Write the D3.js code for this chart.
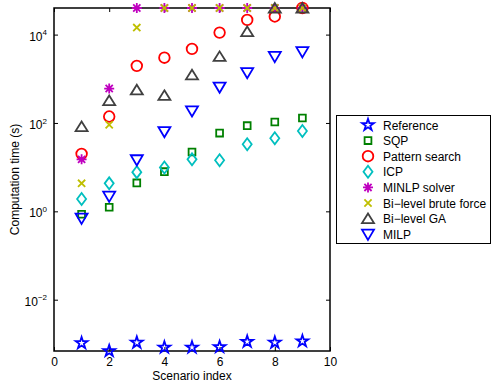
<!DOCTYPE html>
<html>
<head>
<meta charset="utf-8">
<script src="https://cdn.jsdelivr.net/npm/d3@7"></script>
<style>
  body { margin: 0; background: #fff; }
  svg text { font-family: "Liberation Sans", Arial, Helvetica, sans-serif; fill: #000; }
</style>
</head>
<body>
<div id="chart"></div>
<script>
// data (seconds, log scale)
const scenarios = [1, 2, 3, 4, 5, 6, 7, 8, 9]
const reference = [1.04e-3, 6.9e-4, 1.07e-3, 8.3e-4, 8.3e-4, 8.5e-4, 1.12e-3, 1.07e-3, 1.15e-3]
const sqp = [0.86, 1.24, 4.4, 7.9, 22, 59, 87, 105, 130]
const patternSearch = [20, 140, 1960, 3000, 4750, 11100, 21500, 25700, 40000]
const icp = [1.9, 4.3, 7.7, 9.8, 15, 14.3, 33, 45, 66]
const minlp = [15, 600, 40000, 40000, 40000, 40000, 40000, 40000, 40000]
const bruteForce = [4.3, 91, 14400, 40000, 40000, 40000, 40000, 40000, 40000]
const biLevelGA = [83, 320, 560, 420, 1230, 3200, 11700, 40000, 40000]
const milp = [0.70, 2.2, 14.7, 64, 188, 650, 1380, 3200, 4100]

const seriesNames = ['Reference', 'SQP', 'Pattern search', 'ICP', 'MINLP solver',
  'Bi\u2212level brute force', 'Bi\u2212level GA', 'MILP']
const xTicks = [0, 2, 4, 6, 8, 10]
const yTicks = [1e-2, 1, 1e2, 1e4]
const yExponents = ['\u22122', '0', '2', '4']

// constants
const width = 492
const height = 385
const margin = {left: 54, top: 8, right: 162, bottom: 34}
const plotRight = width - margin.right
const plotBottom = height - margin.bottom

// marker shapes, size = radius-ish in px
const star = {draw (ctx, r) {
  const ri = r * 0.382
  for (let i = 0; i < 10; i++) {
    const a = -Math.PI / 2 + i * Math.PI / 5
    const rr = i % 2 === 0 ? r : ri
    const px = rr * Math.cos(a), py = rr * Math.sin(a)
    if (i === 0) ctx.moveTo(px, py); else ctx.lineTo(px, py)
  }
  ctx.closePath()
}}
const square = {draw (ctx, r) { ctx.rect(-r, -r, 2 * r, 2 * r) }}
const circle = {draw (ctx, r) { ctx.moveTo(r, 0); ctx.arc(0, 0, r, 0, 2 * Math.PI) }}
const diamond = {draw (ctx, r) {
  ctx.moveTo(0, -r); ctx.lineTo(r * 0.75, 0); ctx.lineTo(0, r); ctx.lineTo(-r * 0.75, 0); ctx.closePath()
}}
const asterisk = {draw (ctx, r) {
  ctx.moveTo(-r, 0); ctx.lineTo(r, 0)
  ctx.moveTo(0, -r); ctx.lineTo(0, r)
  const d = r * 0.72
  ctx.moveTo(-d, -d); ctx.lineTo(d, d)
  ctx.moveTo(-d, d); ctx.lineTo(d, -d)
}}
const cross = {draw (ctx, r) {
  ctx.moveTo(-r, -r); ctx.lineTo(r, r)
  ctx.moveTo(-r, r); ctx.lineTo(r, -r)
}}
const triUp = {draw (ctx, r) {
  ctx.moveTo(0, -r * 0.85); ctx.lineTo(r, r * 0.75); ctx.lineTo(-r, r * 0.75); ctx.closePath()
}}
const triDown = {draw (ctx, r) {
  ctx.moveTo(0, r * 0.95); ctx.lineTo(r, -r * 0.75); ctx.lineTo(-r, -r * 0.75); ctx.closePath()
}}

const styles = [
  {type: star, size: 6.2, color: '#0000ff'},
  {type: square, size: 3.4, color: '#008000'},
  {type: circle, size: 5.3, color: '#ff0000'},
  {type: diamond, size: 6, color: '#00bfbf'},
  {type: asterisk, size: 5, color: '#bf00bf'},
  {type: cross, size: 3.6, color: '#bfbf00'},
  {type: triUp, size: 6, color: '#404040'},
  {type: triDown, size: 6, color: '#0000ff'}
]
const allValues = [reference, sqp, patternSearch, icp, minlp, bruteForce, biLevelGA, milp]

const svg = d3.select('#chart')
  .append('svg')
  .attr('width', width)
  .attr('height', height)

const xScale = d3.scaleLinear().domain([0, 10]).range([margin.left, plotRight])
const yScale = d3.scaleLog().domain([6.9e-4, 4e4]).range([plotBottom, margin.top])

// axes, inward ticks on all four sides
const yAxis = d3.axisLeft(yScale).tickValues(yTicks).tickSizeInner(-4).tickSizeOuter(0).tickPadding(7)
const gy = svg.append('g')
  .attr('transform', `translate(${margin.left},0)`)
  .call(yAxis)
gy.selectAll('.tick text')
  .text(null)
  .attr('font-size', 12)
  .attr('dy', '0.45em')
  .each(function (d, i) {
    const t = d3.select(this)
    t.append('tspan').text('10')
    t.append('tspan').attr('font-size', 8).attr('dy', '-0.65em').text(yExponents[i])
  })

svg.append('g')
  .attr('transform', `translate(${plotRight},0)`)
  .call(d3.axisRight(yScale).tickValues(yTicks).tickSizeInner(-4).tickSizeOuter(0).tickFormat(''))

const gx = svg.append('g')
  .attr('transform', `translate(0,${plotBottom})`)
  .call(d3.axisBottom(xScale).tickValues(xTicks).tickSizeInner(-4).tickSizeOuter(0).tickPadding(6))
gx.selectAll('.tick text').attr('font-size', 12)

svg.append('g')
  .attr('transform', `translate(0,${margin.top})`)
  .call(d3.axisTop(xScale).tickValues(xTicks).tickSizeInner(-4).tickSizeOuter(0).tickFormat(''))

svg.selectAll('.domain').remove()
svg.selectAll('.tick line').attr('stroke', '#000').attr('stroke-width', 1)

svg.append('rect')
  .attr('x', margin.left)
  .attr('y', margin.top)
  .attr('width', plotRight - margin.left)
  .attr('height', plotBottom - margin.top)
  .attr('fill', 'none')
  .attr('stroke', '#000')
  .attr('stroke-width', 1.5)

// labels
svg.append('text')
  .attr('x', (margin.left + plotRight) / 2)
  .attr('y', 380)
  .attr('text-anchor', 'middle')
  .attr('font-size', 12)
  .text('Scenario index')

svg.append('text')
  .attr('transform', `translate(19,${(margin.top + plotBottom) / 2}) rotate(-90)`)
  .attr('text-anchor', 'middle')
  .attr('font-size', 12)
  .text('Computation time (s)')

// markers
allValues.forEach((vals, i) => {
  const st = styles[i]
  svg.append('g')
    .selectAll('path')
    .data(vals)
    .join('path')
    .attr('transform', (d, j) => `translate(${xScale(scenarios[j])},${yScale(d)})`)
    .attr('d', d3.symbol().type(st.type).size(st.size))
    .attr('fill', 'none')
    .attr('stroke', st.color)
    .attr('stroke-width', 1.8)
})

// legend
const legend = svg.append('g')
legend.append('rect')
  .attr('x', 336.5)
  .attr('y', 115.5)
  .attr('width', 154)
  .attr('height', 128)
  .attr('fill', '#fff')
  .attr('stroke', '#000')
  .attr('stroke-width', 1)

const rows = legend.selectAll('g.row')
  .data(seriesNames)
  .join('g')
  .attr('class', 'row')
  .attr('transform', (d, i) => `translate(0,${125 + i * 15.6})`)
rows.append('path')
  .attr('transform', 'translate(368,0)')
  .attr('d', (d, i) => d3.symbol().type(styles[i].type).size(styles[i].size)())
  .attr('fill', 'none')
  .attr('stroke', (d, i) => styles[i].color)
  .attr('stroke-width', 1.8)
rows.append('text')
  .attr('x', 383)
  .attr('y', 4.5)
  .attr('font-size', 12)
  .text(d => d)
</script>
</body>
</html>
